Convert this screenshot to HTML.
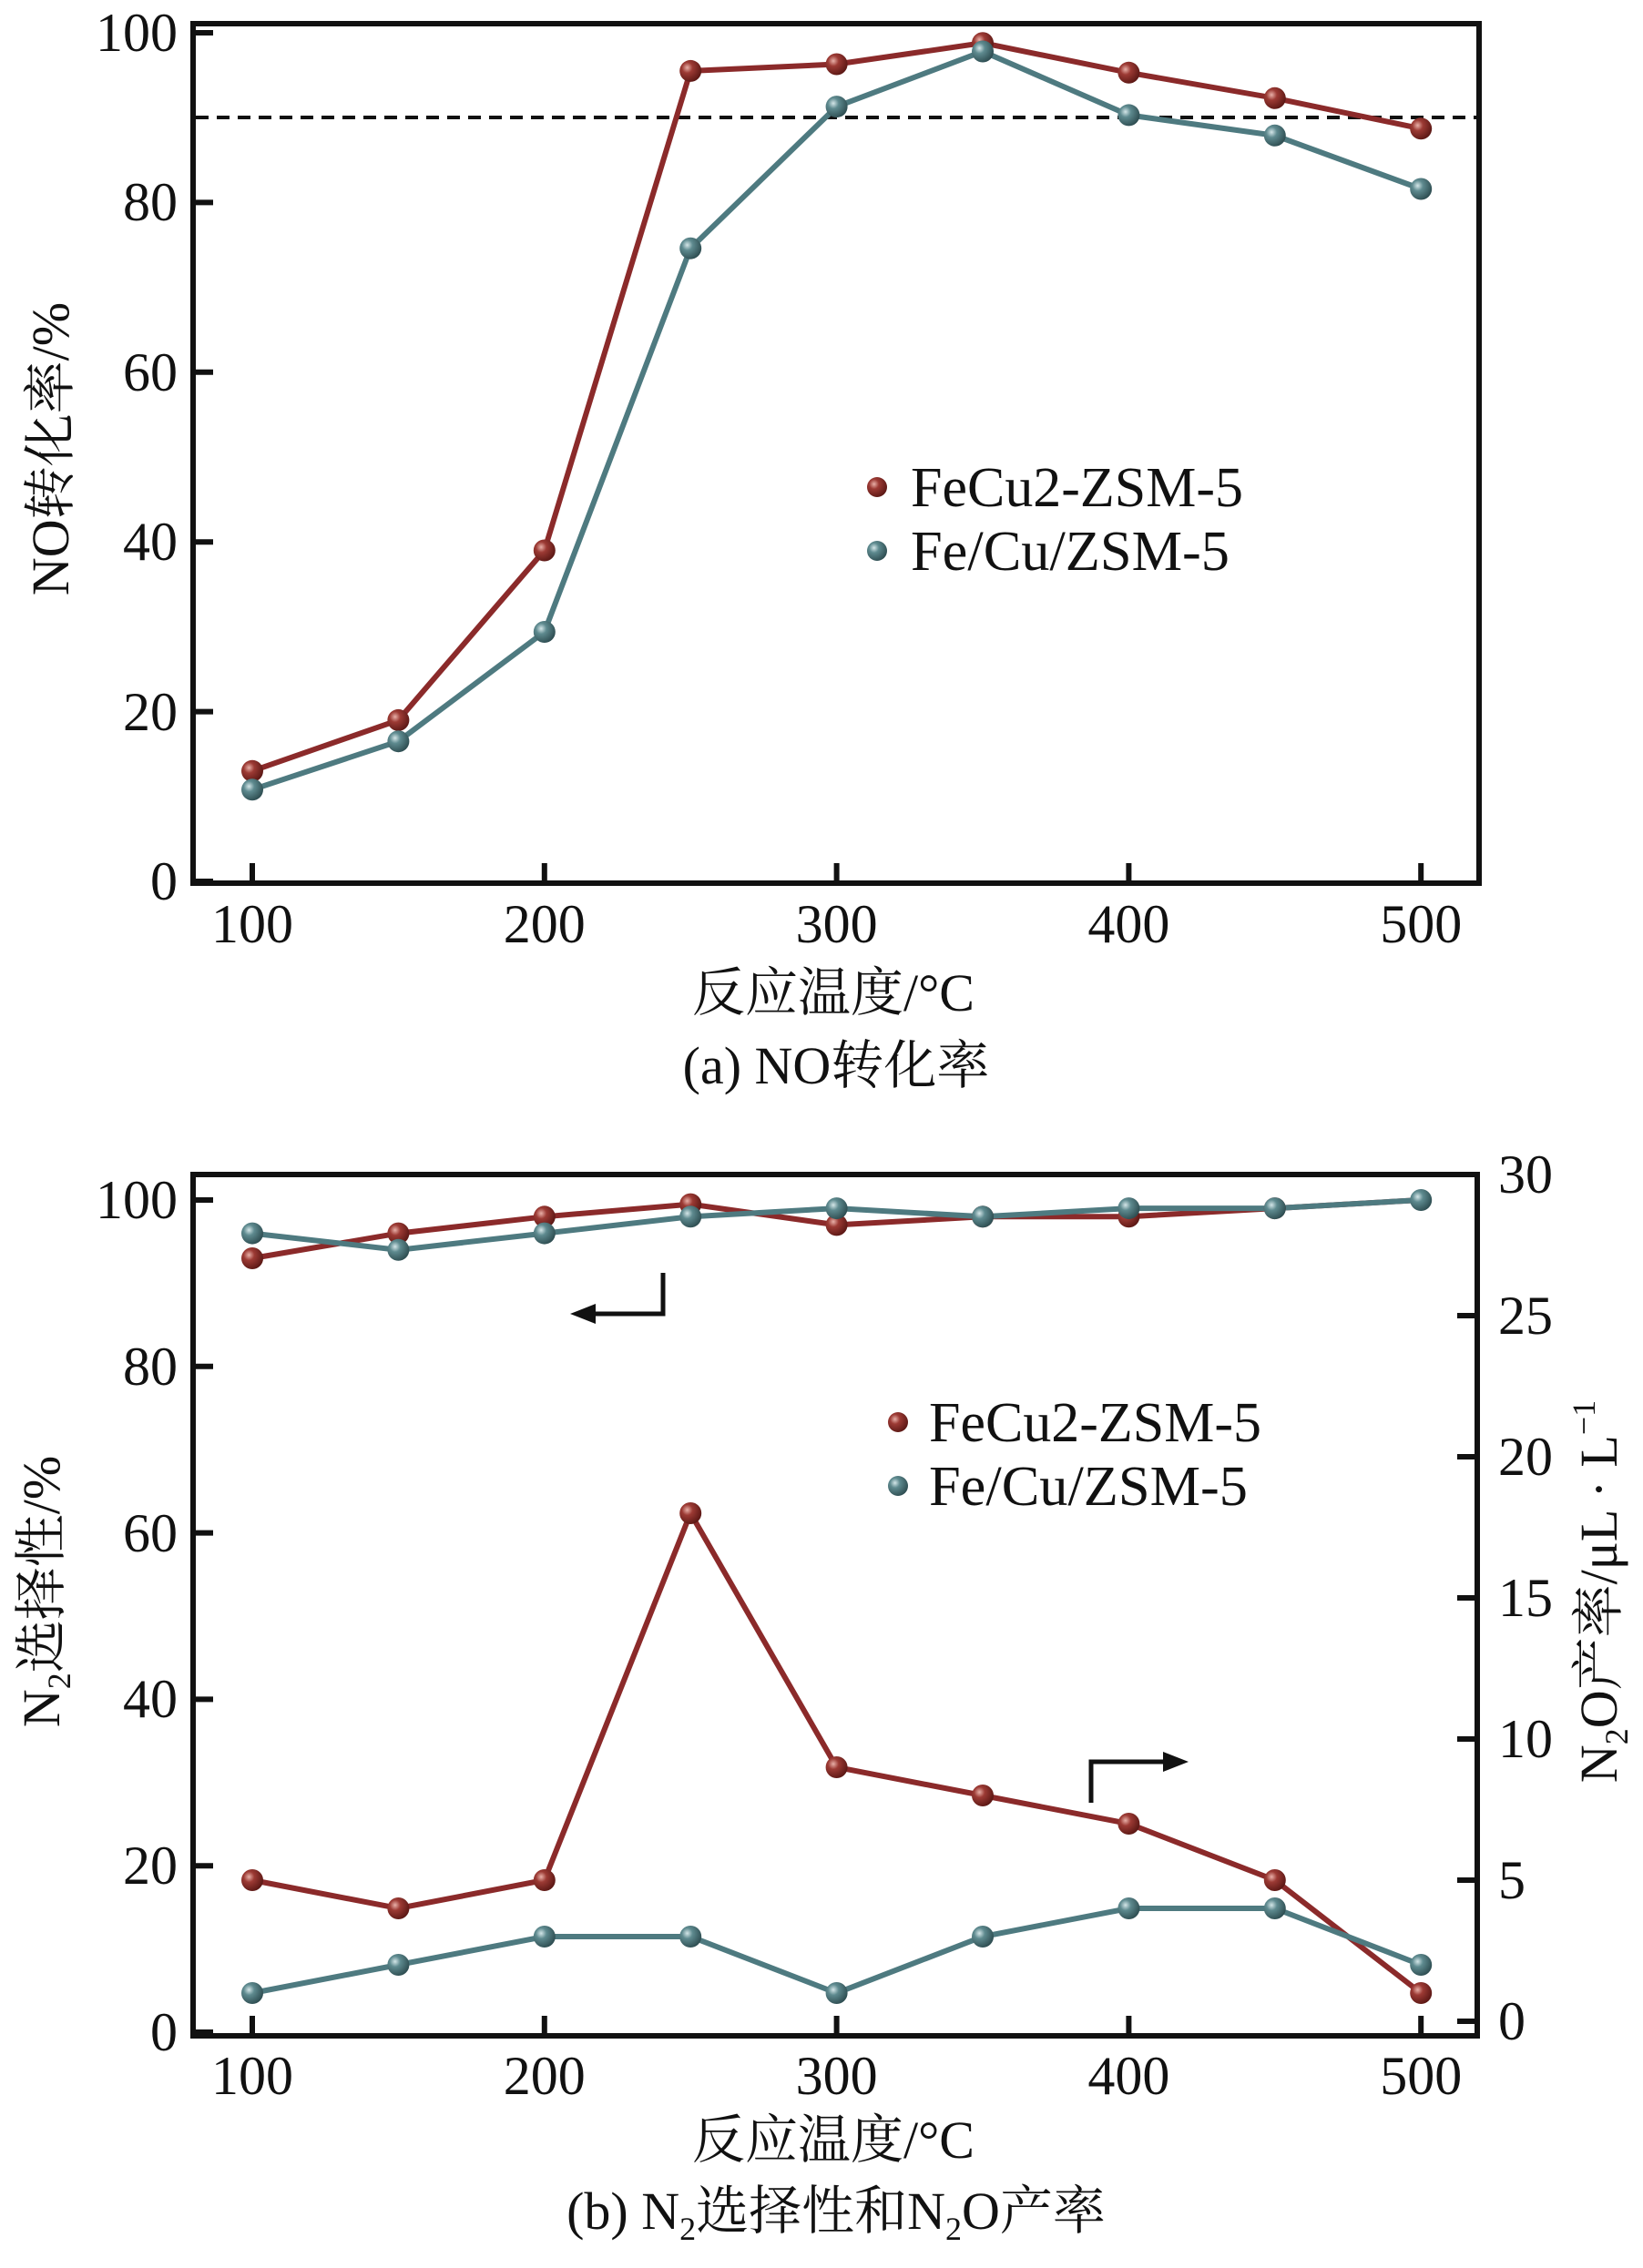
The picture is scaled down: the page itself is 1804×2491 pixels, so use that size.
<!DOCTYPE html>
<html><head><meta charset="utf-8"><style>
html,body{margin:0;padding:0;background:#fff}
svg{display:block}
text{font-family:"Liberation Serif","Noto Serif CJK SC","Noto Sans CJK SC",serif;fill:#111}
</style></head><body>
<svg width="1804" height="2491" viewBox="0 0 1804 2491" xmlns="http://www.w3.org/2000/svg">
<defs>
<radialGradient id="gr" cx="0.35" cy="0.35" r="0.7"><stop offset="0" stop-color="#e8b0a8"/><stop offset="0.35" stop-color="#9c3a34"/><stop offset="1" stop-color="#5a1714"/></radialGradient>
<radialGradient id="gt" cx="0.35" cy="0.35" r="0.7"><stop offset="0" stop-color="#d4e6e8"/><stop offset="0.35" stop-color="#5e8a8f"/><stop offset="1" stop-color="#2d4c50"/></radialGradient>
</defs>

<!-- ===== TOP PLOT ===== -->
<rect x="212" y="26" width="1412" height="944" fill="none" stroke="#111" stroke-width="6"/>
<g stroke="#111" stroke-width="6">
<line x1="212" y1="968" x2="234" y2="968"/><line x1="212" y1="781.6" x2="234" y2="781.6"/><line x1="212" y1="595.2" x2="234" y2="595.2"/><line x1="212" y1="408.8" x2="234" y2="408.8"/><line x1="212" y1="222.4" x2="234" y2="222.4"/><line x1="212" y1="36" x2="234" y2="36"/>
<line x1="277" y1="970" x2="277" y2="948"/><line x1="597.8" y1="970" x2="597.8" y2="948"/><line x1="918.6" y1="970" x2="918.6" y2="948"/><line x1="1239.4" y1="970" x2="1239.4" y2="948"/><line x1="1560.2" y1="970" x2="1560.2" y2="948"/>
</g>
<g font-size="60" text-anchor="end">
<text x="195" y="988">0</text><text x="195" y="802">20</text><text x="195" y="615">40</text><text x="195" y="429">60</text><text x="195" y="242">80</text><text x="195" y="56">100</text>
</g>
<g font-size="60" text-anchor="middle">
<text x="277" y="1035">100</text><text x="597.8" y="1035">200</text><text x="918.6" y="1035">300</text><text x="1239.4" y="1035">400</text><text x="1560.2" y="1035">500</text>
</g>
<line x1="215" y1="129" x2="1621" y2="129" stroke="#111" stroke-width="4" stroke-dasharray="14,9"/>
<polyline fill="none" stroke="#8b2a2a" stroke-width="6" points="277,846.8 437.4,790.9 597.8,604.5 758.2,77.9 918.6,70.5 1079,47.2 1239.4,79.8 1399.8,107.8 1560.2,141.3"/>
<polyline fill="none" stroke="#4e7a80" stroke-width="6" points="277,867.3 437.4,814.2 597.8,694 758.2,272.7 918.6,117.1 1079,56.5 1239.4,126.4 1399.8,148.8 1560.2,207.5"/>
<g fill="url(#gr)">
<circle cx="277" cy="846.8" r="12"/><circle cx="437.4" cy="790.9" r="12"/><circle cx="597.8" cy="604.5" r="12"/><circle cx="758.2" cy="77.9" r="12"/><circle cx="918.6" cy="70.5" r="12"/><circle cx="1079" cy="47.2" r="12"/><circle cx="1239.4" cy="79.8" r="12"/><circle cx="1399.8" cy="107.8" r="12"/><circle cx="1560.2" cy="141.3" r="12"/>
</g>
<g fill="url(#gt)">
<circle cx="277" cy="867.3" r="12"/><circle cx="437.4" cy="814.2" r="12"/><circle cx="597.8" cy="694" r="12"/><circle cx="758.2" cy="272.7" r="12"/><circle cx="918.6" cy="117.1" r="12"/><circle cx="1079" cy="56.5" r="12"/><circle cx="1239.4" cy="126.4" r="12"/><circle cx="1399.8" cy="148.8" r="12"/><circle cx="1560.2" cy="207.5" r="12"/>
</g>
<circle cx="963" cy="535" r="11" fill="url(#gr)"/>
<circle cx="963" cy="605" r="11" fill="url(#gt)"/>
<text x="1000" y="556" font-size="62" textLength="365" lengthAdjust="spacingAndGlyphs">FeCu2-ZSM-5</text>
<text x="1000" y="626" font-size="62" textLength="350" lengthAdjust="spacingAndGlyphs">Fe/Cu/ZSM-5</text>
<text transform="translate(75,493) rotate(-90)" font-size="58" text-anchor="middle">NO转化率/%</text>
<text x="915" y="1110" font-size="58" text-anchor="middle">反应温度/°C</text>
<text x="918" y="1190" font-size="58" text-anchor="middle">(a) NO转化率</text>

<!-- ===== BOTTOM PLOT ===== -->
<rect x="212" y="1290" width="1410" height="946" fill="none" stroke="#111" stroke-width="6"/>
<g stroke="#111" stroke-width="6">
<line x1="212" y1="2232" x2="234" y2="2232"/><line x1="212" y1="2049.2" x2="234" y2="2049.2"/><line x1="212" y1="1866.4" x2="234" y2="1866.4"/><line x1="212" y1="1683.6" x2="234" y2="1683.6"/><line x1="212" y1="1500.8" x2="234" y2="1500.8"/><line x1="212" y1="1318" x2="234" y2="1318"/>
<line x1="1600" y1="2220" x2="1622" y2="2220"/><line x1="1600" y1="2065" x2="1622" y2="2065"/><line x1="1600" y1="1910" x2="1622" y2="1910"/><line x1="1600" y1="1755" x2="1622" y2="1755"/><line x1="1600" y1="1600" x2="1622" y2="1600"/><line x1="1600" y1="1445" x2="1622" y2="1445"/>
<line x1="277" y1="2236" x2="277" y2="2214"/><line x1="597.8" y1="2236" x2="597.8" y2="2214"/><line x1="918.6" y1="2236" x2="918.6" y2="2214"/><line x1="1239.4" y1="2236" x2="1239.4" y2="2214"/><line x1="1560.2" y1="2236" x2="1560.2" y2="2214"/>
</g>
<g font-size="60" text-anchor="end">
<text x="195" y="2252">0</text><text x="195" y="2069">20</text><text x="195" y="1886">40</text><text x="195" y="1704">60</text><text x="195" y="1521">80</text><text x="195" y="1338">100</text>
</g>
<g font-size="60" text-anchor="start">
<text x="1645" y="2240">0</text><text x="1645" y="2085">5</text><text x="1645" y="1930">10</text><text x="1645" y="1775">15</text><text x="1645" y="1620">20</text><text x="1645" y="1465">25</text><text x="1645" y="1310">30</text>
</g>
<g font-size="60" text-anchor="middle">
<text x="277" y="2300">100</text><text x="597.8" y="2300">200</text><text x="918.6" y="2300">300</text><text x="1239.4" y="2300">400</text><text x="1560.2" y="2300">500</text>
</g>
<!-- arrows -->
<polyline points="728,1398 728,1443 650,1443" fill="none" stroke="#111" stroke-width="5"/>
<polygon points="626,1443 654,1432 654,1454" fill="#111"/>
<polyline points="1198,1980 1198,1935 1280,1935" fill="none" stroke="#111" stroke-width="5"/>
<polygon points="1305,1935 1277,1924 1277,1946" fill="#111"/>
<!-- series -->
<polyline fill="none" stroke="#8b2a2a" stroke-width="6" points="277,1382 437.4,1354.6 597.8,1336.3 758.2,1322.6 918.6,1345.4 1079,1336.3 1239.4,1336.3 1399.8,1327.1 1560.2,1318"/>
<polyline fill="none" stroke="#4e7a80" stroke-width="6" points="277,1354.6 437.4,1372.8 597.8,1354.6 758.2,1336.3 918.6,1327.1 1079,1336.3 1239.4,1327.1 1399.8,1327.1 1560.2,1318"/>
<polyline fill="none" stroke="#8b2a2a" stroke-width="6" points="277,2065 437.4,2096 597.8,2065 758.2,1662 918.6,1941 1079,1972 1239.4,2003 1399.8,2065 1560.2,2189"/>
<polyline fill="none" stroke="#4e7a80" stroke-width="6" points="277,2189 437.4,2158 597.8,2127 758.2,2127 918.6,2189 1079,2127 1239.4,2096 1399.8,2096 1560.2,2158"/>
<g fill="url(#gr)">
<circle cx="277" cy="1382" r="12"/><circle cx="437.4" cy="1354.6" r="12"/><circle cx="597.8" cy="1336.3" r="12"/><circle cx="758.2" cy="1322.6" r="12"/><circle cx="918.6" cy="1345.4" r="12"/><circle cx="1079" cy="1336.3" r="12"/><circle cx="1239.4" cy="1336.3" r="12"/><circle cx="1399.8" cy="1327.1" r="12"/>
<circle cx="277" cy="2065" r="12"/><circle cx="437.4" cy="2096" r="12"/><circle cx="597.8" cy="2065" r="12"/><circle cx="758.2" cy="1662" r="12"/><circle cx="918.6" cy="1941" r="12"/><circle cx="1079" cy="1972" r="12"/><circle cx="1239.4" cy="2003" r="12"/><circle cx="1399.8" cy="2065" r="12"/><circle cx="1560.2" cy="2189" r="12"/>
</g>
<g fill="url(#gt)">
<circle cx="277" cy="1354.6" r="12"/><circle cx="437.4" cy="1372.8" r="12"/><circle cx="597.8" cy="1354.6" r="12"/><circle cx="758.2" cy="1336.3" r="12"/><circle cx="918.6" cy="1327.1" r="12"/><circle cx="1079" cy="1336.3" r="12"/><circle cx="1239.4" cy="1327.1" r="12"/><circle cx="1399.8" cy="1327.1" r="12"/><circle cx="1560.2" cy="1318" r="12"/>
<circle cx="277" cy="2189" r="12"/><circle cx="437.4" cy="2158" r="12"/><circle cx="597.8" cy="2127" r="12"/><circle cx="758.2" cy="2127" r="12"/><circle cx="918.6" cy="2189" r="12"/><circle cx="1079" cy="2127" r="12"/><circle cx="1239.4" cy="2096" r="12"/><circle cx="1399.8" cy="2096" r="12"/><circle cx="1560.2" cy="2158" r="12"/>
</g>
<circle cx="986" cy="1562" r="11" fill="url(#gr)"/>
<circle cx="986" cy="1632" r="11" fill="url(#gt)"/>
<text x="1020" y="1583" font-size="62" textLength="365" lengthAdjust="spacingAndGlyphs">FeCu2-ZSM-5</text>
<text x="1020" y="1653" font-size="62" textLength="350" lengthAdjust="spacingAndGlyphs">Fe/Cu/ZSM-5</text>
<text transform="translate(65,1748) rotate(-90)" font-size="58" text-anchor="middle">N<tspan font-size="36" dy="12">2</tspan><tspan dy="-12">选择性/%</tspan></text>
<text transform="translate(1775,1748) rotate(-90)" font-size="58" text-anchor="middle">N<tspan font-size="36" dy="12">2</tspan><tspan dy="-12">O产率/μL · L</tspan><tspan font-size="36" dy="-24">−1</tspan></text>
<text x="915" y="2370" font-size="58" text-anchor="middle">反应温度/°C</text>
<text x="918" y="2448" font-size="58" text-anchor="middle">(b) N<tspan font-size="36" dy="12">2</tspan><tspan dy="-12">选择性和N</tspan><tspan font-size="36" dy="12">2</tspan><tspan dy="-12">O产率</tspan></text>
</svg>
</body></html>
